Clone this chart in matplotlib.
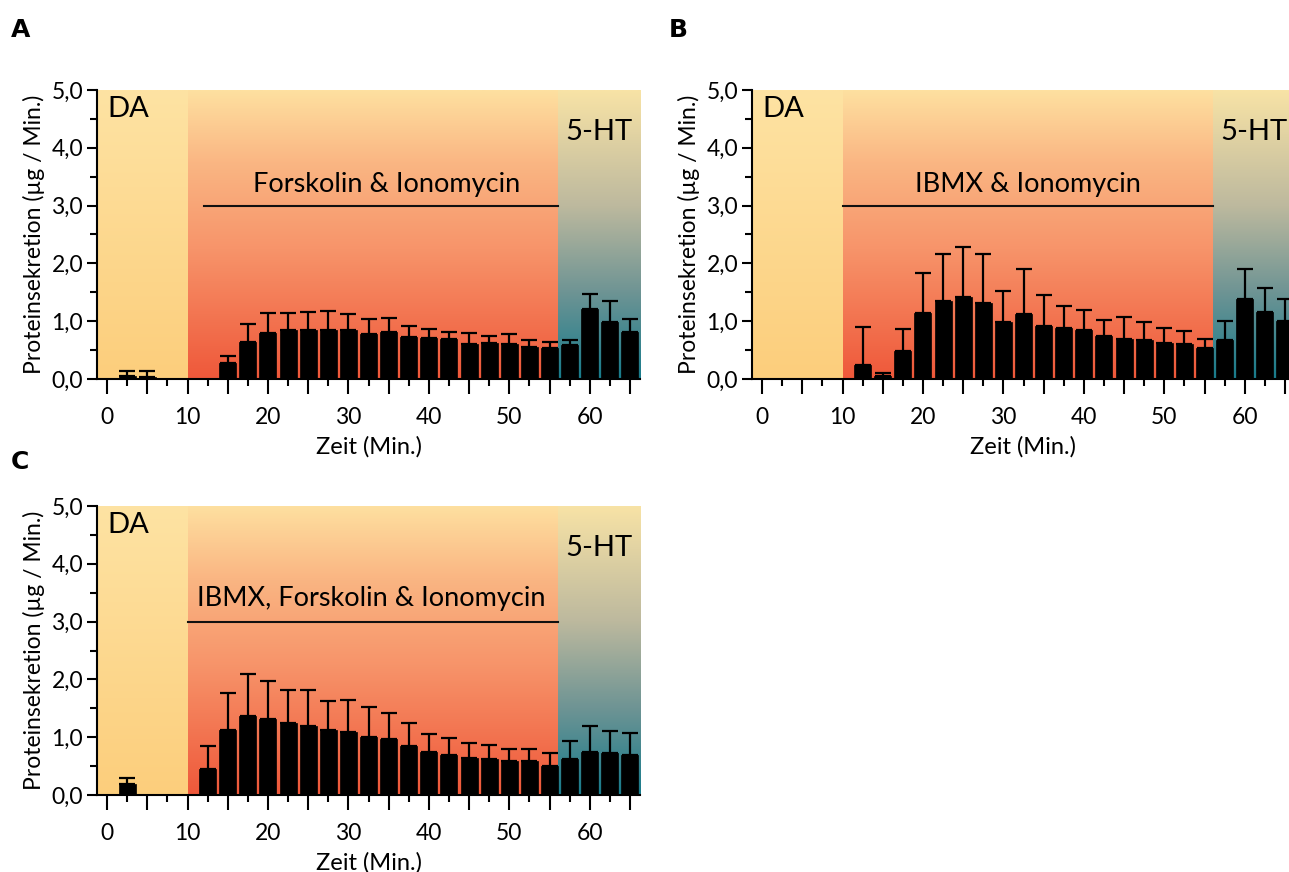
import numpy as np
import matplotlib
matplotlib.use("Agg")
import matplotlib.pyplot as plt
from matplotlib.colors import LinearSegmentedColormap
from matplotlib.ticker import MultipleLocator, FuncFormatter

plt.rcParams['font.family'] = ['Lato', 'DejaVu Sans']

# ---- data ----
time_points = [2.5, 5, 7.5, 10, 12.5, 15, 17.5, 20, 22.5, 25, 27.5, 30, 32.5, 35,
               37.5, 40, 42.5, 45, 47.5, 50, 52.5, 55, 57.5, 60, 62.5, 65]

mean_A = [0.05, 0.035, 0, 0, 0, 0.27, 0.64, 0.80, 0.85, 0.85, 0.85, 0.84, 0.78, 0.82,
          0.73, 0.71, 0.69, 0.61, 0.63, 0.61, 0.55, 0.54, 0.59, 1.21, 0.99, 0.82]
err_A = [0.085, 0.105, 0, 0, 0, 0.13, 0.31, 0.34, 0.29, 0.31, 0.33, 0.28, 0.25, 0.23,
         0.18, 0.15, 0.13, 0.18, 0.12, 0.16, 0.13, 0.10, 0.09, 0.26, 0.36, 0.22]

mean_B = [0, 0, 0, 0, 0.25, 0.047, 0.49, 1.15, 1.35, 1.42, 1.31, 0.98, 1.12, 0.92,
          0.88, 0.84, 0.74, 0.70, 0.67, 0.62, 0.60, 0.53, 0.67, 1.38, 1.16, 1.00]
err_B = [0, 0, 0, 0, 0.65, 0.053, 0.38, 0.69, 0.82, 0.86, 0.85, 0.55, 0.78, 0.54,
         0.38, 0.36, 0.28, 0.37, 0.32, 0.26, 0.23, 0.16, 0.34, 0.53, 0.42, 0.39]

mean_C = [0.19, 0, 0, 0, 0.45, 1.13, 1.37, 1.32, 1.25, 1.20, 1.13, 1.09, 1.00, 0.97,
          0.85, 0.74, 0.69, 0.64, 0.62, 0.59, 0.58, 0.51, 0.62, 0.74, 0.73, 0.69]
err_C = [0.10, 0, 0, 0, 0.39, 0.64, 0.72, 0.66, 0.57, 0.62, 0.50, 0.55, 0.52, 0.45,
         0.40, 0.31, 0.29, 0.26, 0.25, 0.21, 0.22, 0.22, 0.32, 0.45, 0.37, 0.38]

panel_letters = ['A', 'B', 'C']
treatments = ['Forskolin & Ionomycin', 'IBMX & Ionomycin', 'IBMX, Forskolin & Ionomycin']
line_starts = [12, 10, 10]
text_centers = [34.8, 33.1, 32.9]
text_y = [3.36, 3.36, 3.4]

# ---- phases ----
X0, X1 = -1.25, 66.25
DA_END, HT_START = 10, 56

cmap_da = LinearSegmentedColormap.from_list('da', ['#FCCE7C', '#FEE3A3'])
cmap_mid = LinearSegmentedColormap.from_list(
    'mid', [(0, '#EF583A'), (0.45, '#F7946A'), (0.75, '#FAB683'), (1, '#FEE0A0')])
cmap_ht = LinearSegmentedColormap.from_list(
    'ht', [(0, '#187B8B'), (0.3, '#6E9494'), (0.6, '#BDB99E'), (1, '#F8E3A6')])

W, H = 1289, 872
fig = plt.figure(figsize=(W / 100, H / 100), dpi=100)

axes_px = [(97, 90, 379), (752, 90, 379), (97, 506, 795)]
ax_w_px = 543

grad = np.linspace(0, 1, 256).reshape(-1, 1)

panel_pos = [(11, 30), (669, 30), (11, 462)]

for i, (left, top, bottom) in enumerate(axes_px):
    ax = fig.add_axes([left / W, 1 - bottom / H, ax_w_px / W, (bottom - top) / H])
    means = [mean_A, mean_B, mean_C][i]
    errs = [err_A, err_B, err_C][i]

    ax.imshow(grad, extent=[X0, DA_END, 0, 5], origin='lower', cmap=cmap_da,
              aspect='auto', zorder=0)
    ax.imshow(grad, extent=[DA_END, HT_START, 0, 5], origin='lower', cmap=cmap_mid,
              aspect='auto', zorder=0)
    ax.imshow(grad, extent=[HT_START, X1, 0, 5], origin='lower', cmap=cmap_ht,
              aspect='auto', zorder=0)

    t = np.array(time_points)
    m = np.array(means)
    e = np.array(errs)
    nz = m > 0
    ax.bar(t[nz], m[nz], width=2.1, color='black', edgecolor='black', linewidth=0.5,
           zorder=3)
    ax.errorbar(t[nz], m[nz], yerr=[np.zeros(nz.sum()), e[nz]], fmt='none',
                ecolor='black', elinewidth=1.6, capsize=6, capthick=1.6, zorder=4)

    ax.set_xlim(X0, X1)
    ax.set_ylim(0, 5)

    ax.plot([line_starts[i], HT_START], [3.0, 3.0], color='#111111', lw=1.5, zorder=2)
    ax.text(text_centers[i], text_y[i], treatments[i], ha='center', va='center',
            fontsize=19.5, zorder=5)
    ax.text(0.05, 4.9, 'DA', ha='left', va='top', fontsize=21, zorder=5)
    ax.text(61.2, 4.5, '5-HT', ha='center', va='top', fontsize=21, zorder=5)

    for s in ['top', 'right']:
        ax.spines[s].set_visible(False)
    for s in ['left', 'bottom']:
        ax.spines[s].set_linewidth(1.5)
        ax.spines[s].set_zorder(6)

    ax.xaxis.set_major_locator(MultipleLocator(5))
    ax.xaxis.set_minor_locator(MultipleLocator(2.5))
    ax.xaxis.set_major_formatter(FuncFormatter(
        lambda v, p: f'{int(round(v))}' if abs(v % 10) < 1e-6 or abs(v % 10 - 10) < 1e-6 else ''))
    ax.yaxis.set_major_locator(MultipleLocator(1))
    ax.yaxis.set_minor_locator(MultipleLocator(0.5))
    ax.yaxis.set_major_formatter(FuncFormatter(lambda v, p: f'{v:.1f}'.replace('.', ',')))

    ax.tick_params(axis='x', which='major', length=11, width=1.5, labelsize=16.5, pad=9)
    ax.tick_params(axis='x', which='minor', length=5, width=1.5)
    ax.tick_params(axis='y', which='major', length=7, width=1.5, labelsize=16.5, pad=3)
    ax.tick_params(axis='y', which='minor', length=5, width=1.5)

    ax.set_xlabel('Zeit (Min.)', fontsize=17, labelpad=6)
    ax.set_ylabel('Proteinsekretion (µg / Min.)', fontsize=16.5, labelpad=5)

    fig.text(panel_pos[i][0] / W, 1 - panel_pos[i][1] / H, panel_letters[i],
             fontsize=18, fontweight='bold', family='DejaVu Sans',
             ha='left', va='center')

fig.savefig('out.png', dpi=100)
